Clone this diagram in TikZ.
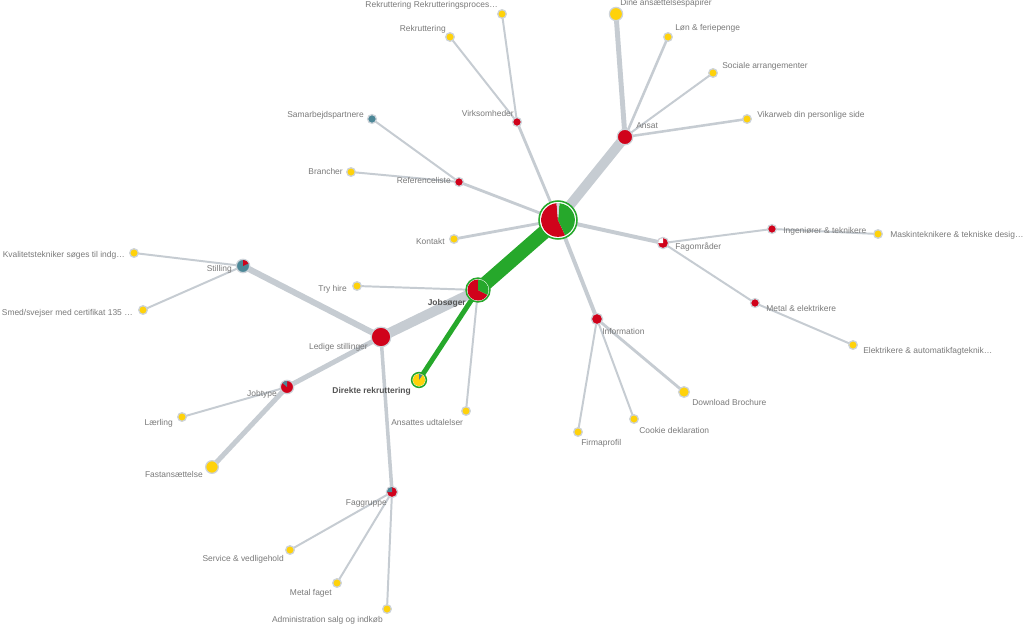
\documentclass[tikz,border=0pt]{standalone}
\usepackage{fontspec}
\setmainfont{Liberation Sans}
\usetikzlibrary{backgrounds}

\definecolor{yel}{HTML}{FFD20A}
\definecolor{rd}{HTML}{D0021B}
\definecolor{grn}{HTML}{26A82B}
\definecolor{tealc}{HTML}{4C8797}
\definecolor{edgegray}{HTML}{C6CCD2}
\definecolor{ringgray}{HTML}{CDD3D9}
\definecolor{txtgray}{HTML}{7A7A7A}
\definecolor{txtdark}{HTML}{555555}

% filled wedge: centre node, radius, start angle, end angle, colour
\newcommand{\pieslice}[5]{%
  \fill[#5] (#1.center) -- ++(#3:#2) arc[start angle=#3, end angle=#4, radius=#2] -- cycle;}

\begin{document}
\begin{tikzpicture}[x=0.025cm,y=-0.025cm,
    dot/.style={circle,inner sep=0pt,draw=ringgray,line width=0.9pt,minimum size=#1},
    ydot/.style={dot=#1,fill=yel},
    rdot/.style={dot=#1,fill=rd},
    gring/.style={circle,inner sep=0pt,draw=grn,line width=1.1pt,fill=white,minimum size=#1},
    lnk/.style={draw=edgegray,line width=#1},
    lbl/.style={text=txtgray,font=\fontsize{6}{7}\selectfont,inner sep=0pt},
    blbl/.style={lbl,text=txtdark,font=\fontsize{6}{7}\selectfont\bfseries}]

      \useasboundingbox (0,0) rectangle (1024,625);

      % centre and first ring
      \node (root) at (558,220) [gring=27pt] {};
      \node (job) at (478,290) [gring=17pt] {};
      \node (direkte) at (419,380) [gring=10.5pt] {};
      \node (ledige) at (381,337) [rdot=14pt] {};
      \node (ansat) at (625,137) [rdot=11pt] {};
      \node (info) at (597,319) [rdot=8pt] {};
      \node (fagomr) at (663,243) [rdot=8pt] {};
      \node (stilling) at (243,266) [dot=9.5pt,fill=tealc] {};
      \node (jobtype) at (287,387) [rdot=9.5pt] {};
      \node (faggruppe) at (392,492) [rdot=8pt] {};

      % small red nodes
      \foreach \n/\x/\y in {refliste/459/182, virks/517/122, ingen/772/229, metal/755/303} {
        \node (\n) at (\x,\y) [rdot=6.3pt] {};
      }
      \node (samarb) at (372,119) [dot=6.3pt,fill=tealc] {};

      % leaves
      \foreach \n/\x/\y in {kontakt/454/239, tryhire/357/286, udtal/466/411, brancher/351/172,
          rekr/450/37, rekrproc/502/14, loen/668/37, sociale/713/73, vikarweb/747/119,
          maskin/878/234, elektr/853/345, cookie/634/419, firma/578/432, kvalitet/134/253,
          smed/143/310, laerling/182/417, service/290/550, metalfag/337/583, admin/387/609} {
        \node (\n) at (\x,\y) [ydot=6.1pt] {};
      }
      \node (dine) at (616,14) [ydot=9.4pt] {};
      \node (fast) at (212,467) [ydot=9pt] {};
      \node (download) at (684,392) [ydot=7.6pt] {};

      % pies
      \pieslice{root}{12pt}{95}{295}{rd}
      \pieslice{root}{12pt}{-65}{85}{grn}
      \pieslice{root}{12pt}{85}{95}{ringgray}
      \pieslice{job}{7.5pt}{90}{333}{rd}
      \pieslice{job}{7.5pt}{-27}{90}{grn}
      \pieslice{direkte}{4.3pt}{0}{360}{yel}
      \pieslice{direkte}{4.3pt}{55}{90}{tealc}
      \pieslice{stilling}{4.3pt}{25}{90}{rd}
      \pieslice{jobtype}{4.3pt}{90}{138}{tealc}
      \pieslice{faggruppe}{3.6pt}{90}{180}{tealc}
      \pieslice{fagomr}{3.6pt}{90}{180}{white}

      % connectors
      \begin{scope}[on background layer]
        \fill[white] (0,0) rectangle (1024,625);
        \draw[lnk=10pt,draw=grn] (root.center) to (job.center);
        \draw[lnk=3.5pt,draw=grn] (job.center) to (direkte.center);
        \draw[lnk=7pt] (root.center) to (ansat.center);
        \draw[lnk=7pt] (job.center) to (ledige.center);
        \draw[lnk=1.4pt] (job.center) to (tryhire.center);
        \draw[lnk=1.4pt] (job.center) to (udtal.center);
        \draw[lnk=2pt] (root.center) to (kontakt.center);
        \draw[lnk=2pt] (root.center) to (refliste.center);
        \draw[lnk=2pt] (root.center) to (virks.center);
        \draw[lnk=2.8pt] (root.center) to (fagomr.center);
        \draw[lnk=2.8pt] (root.center) to (info.center);
        \draw[lnk=1.4pt] (refliste.center) to (brancher.center);
        \draw[lnk=1.4pt] (refliste.center) to (samarb.center);
        \draw[lnk=1.4pt] (virks.center) to (rekr.center);
        \draw[lnk=1.4pt] (virks.center) to (rekrproc.center);
        \draw[lnk=3.5pt] (ansat.center) to (dine.center);
        \draw[lnk=1.8pt] (ansat.center) to (loen.center);
        \draw[lnk=1.4pt] (ansat.center) to (sociale.center);
        \draw[lnk=1.8pt] (ansat.center) to (vikarweb.center);
        \draw[lnk=1.4pt] (fagomr.center) to (ingen.center) to (maskin.center);
        \draw[lnk=1.4pt] (fagomr.center) to (metal.center) to (elektr.center);
        \draw[lnk=2pt] (info.center) to (download.center);
        \draw[lnk=1.4pt] (info.center) to (cookie.center);
        \draw[lnk=1.4pt] (info.center) to (firma.center);
        \draw[lnk=4.3pt] (ledige.center) to (stilling.center);
        \draw[lnk=1.4pt] (stilling.center) to (kvalitet.center);
        \draw[lnk=1.4pt] (stilling.center) to (smed.center);
        \draw[lnk=3.5pt] (ledige.center) to (jobtype.center);
        \draw[lnk=1.4pt] (jobtype.center) to (laerling.center);
        \draw[lnk=3.5pt] (jobtype.center) to (fast.center);
        \draw[lnk=2.5pt] (ledige.center) to (faggruppe.center);
        \draw[lnk=1.4pt] (faggruppe.center) to (service.center);
        \draw[lnk=1.4pt] (faggruppe.center) to (metalfag.center);
        \draw[lnk=1.4pt] (faggruppe.center) to (admin.center);
      \end{scope}

      % labels, right aligned
      \foreach \n/\x/\y/\t in {rekrproc/498/5/Rekruttering Rekrutteringsproces…, rekr/446/29/Rekruttering,
          virks/514/113/Virksomheder, samarb/364/115/Samarbejdspartnere, brancher/343/171/Brancher,
          refliste/451/180/Referenceliste, kontakt/445/241/Kontakt, tryhire/347/289/Try hire,
          ledige/368/347/Ledige stillinger, kvalitet/125/255/Kvalitetstekniker søges til indg…,
          stilling/232/269/Stilling, jobtype/277/394/Jobtype, laerling/173/423/Lærling,
          fast/203/474/Fastansættelse, faggruppe/387/503/Faggruppe, service/284/559/Service \& vedligehold,
          metalfag/332/593/Metal faget, admin/383/620/Administration salg og indkøb} {
        \node (l\n) at (\x,\y) [lbl,anchor=east] {\t};
      }
      \node (lsmed) at (133,313) [lbl,anchor=east] {Smed/svejser med certifikat 135 …};
      \node (ljob) at (466,303) [blbl,anchor=east] {Jobsøger};
      \node (ldirekte) at (411,391) [blbl,anchor=east] {Direkte rekruttering};

      % labels, left aligned
      \foreach \n/\x/\y/\t in {dine/620/3/Dine ansættelsespapirer, loen/675/28/Løn \& feriepenge,
          sociale/722/66/Sociale arrangementer, vikarweb/757/115/Vikarweb din personlige side,
          ansat/636/126/Ansat, fagomr/675/247/Fagområder, ingen/783/231/Ingeniører \& teknikere,
          maskin/890/235/Maskinteknikere \& tekniske desig…, metal/766/308/Metal \& elektrikere,
          elektr/863/351/Elektrikere \& automatikfagteknik…, info/602/331/Information,
          download/692/402/Download Brochure, cookie/639/430/Cookie deklaration,
          firma/581/443/Firmaprofil, udtal/391/422/Ansattes udtalelser} {
        \node (l\n) at (\x,\y) [lbl,anchor=west] {\t};
      }

\end{tikzpicture}
\end{document}
